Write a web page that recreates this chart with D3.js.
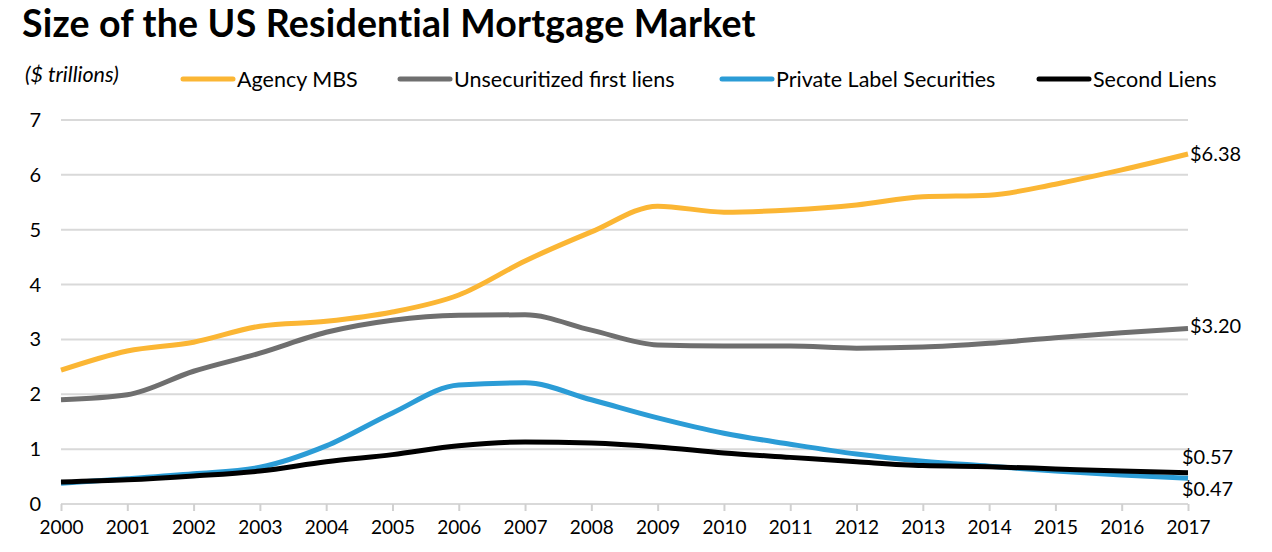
<!DOCTYPE html>
<html>
<head>
<meta charset="utf-8">
<script src="https://cdn.jsdelivr.net/npm/d3@7"></script>
<style>
  body { margin: 0; background: #fff; }
  svg text { font-family: Lato, "Open Sans", sans-serif; fill: #000; }
</style>
</head>
<body>
<div class="canvas"></div>
<script>
// chart data ($ trillions)
const years = d3.range(2000, 2018);
const agencyMBS = [2.44, 2.79, 2.95, 3.24, 3.33, 3.50, 3.81, 4.43, 4.96, 5.43, 5.32, 5.36, 5.45, 5.60, 5.63, 5.83, 6.09, 6.38];
const unsecuritized = [1.90, 1.99, 2.42, 2.75, 3.13, 3.35, 3.44, 3.45, 3.17, 2.90, 2.88, 2.88, 2.84, 2.86, 2.93, 3.03, 3.12, 3.20];
const privateLabel = [0.38, 0.46, 0.55, 0.67, 1.06, 1.66, 2.17, 2.21, 1.90, 1.57, 1.29, 1.09, 0.91, 0.78, 0.69, 0.60, 0.53, 0.47];
const secondLiens = [0.40, 0.44, 0.51, 0.60, 0.77, 0.90, 1.06, 1.13, 1.11, 1.04, 0.93, 0.85, 0.77, 0.70, 0.68, 0.64, 0.60, 0.57];
const yTicks = [0, 1, 2, 3, 4, 5, 6, 7];
const endLabels = ['$6.38', '$3.20', '$0.47', '$0.57'];

const series = [
  {name: 'Agency MBS', values: agencyMBS, color: '#fbb634', label: endLabels[0], dx: 2, dy: 0},
  {name: 'Unsecuritized first liens', values: unsecuritized, color: '#6f6f6f', label: endLabels[1], dx: 2, dy: -2},
  {name: 'Private Label Securities', values: privateLabel, color: '#2b9cd6', label: endLabels[2], dx: -6, dy: 11},
  {name: 'Second Liens', values: secondLiens, color: '#000000', label: endLabels[3], dx: -6, dy: -16}
];

const width = 1272, height = 552;
const margin = {left: 61, right: 84, top: 120, bottom: 48};

const svg = d3.select('.canvas')
  .append('svg')
  .attr('width', width)
  .attr('height', height);

// title
svg.append('text')
  .attr('x', 22).attr('y', 37)
  .style('font-size', '37.5px').style('font-weight', 'bold')
  .style('letter-spacing', '0.2px')
  .text('Size of the US Residential Mortgage Market');

svg.append('text')
  .attr('x', 25).attr('y', 82)
  .style('font-size', '21.5px').style('font-style', 'italic')
  .text('($ trillions)');

// legend
const legendX = [183, 400, 722, 1039];
const legend = svg.selectAll('.legend')
  .data(series)
  .enter().append('g')
  .attr('transform', (d, i) => `translate(${legendX[i]}, 79)`);
legend.append('line')
  .attr('x1', 0).attr('x2', 50)
  .attr('stroke', d => d.color)
  .attr('stroke-width', 5)
  .attr('stroke-linecap', 'round');
legend.append('text')
  .attr('x', 54).attr('dy', '0.35em')
  .style('font-size', '21.5px')
  .text(d => d.name);

// scales
const x = d3.scaleLinear()
  .domain([2000, 2017])
  .range([margin.left, width - margin.right]);

const y = d3.scaleLinear()
  .domain([0, 7])
  .range([height - margin.bottom, margin.top]);

// gridlines
svg.append('g')
  .selectAll('line')
  .data(yTicks)
  .enter().append('line')
  .attr('x1', x(2000)).attr('x2', x(2017))
  .attr('y1', d => y(d)).attr('y2', d => y(d))
  .attr('stroke', '#d9d9d9')
  .attr('stroke-width', 2);

// y labels
svg.append('g')
  .selectAll('text')
  .data(yTicks)
  .enter().append('text')
  .attr('x', 41).attr('y', d => y(d))
  .attr('dy', '0.35em')
  .attr('text-anchor', 'end')
  .style('font-size', '20px')
  .text(d => d);

// x axis
const xAxis = svg.append('g')
  .attr('transform', `translate(0, ${y(0)})`)
  .call(d3.axisBottom(x).tickValues(years).tickFormat(d3.format('d')).tickSize(7).tickPadding(10));
xAxis.select('.domain').remove();
xAxis.selectAll('.tick line').attr('stroke', '#d0d0d0').attr('stroke-width', 2);
xAxis.selectAll('.tick text')
  .style('font-size', '19px')
  .style('font-family', 'Lato, sans-serif')
  .attr('fill', '#000');

// lines
const line = d3.line()
  .x((d, i) => x(years[i]))
  .y(d => y(d))
  .curve(d3.curveMonotoneX);

svg.append('g')
  .selectAll('path')
  .data(series)
  .enter().append('path')
  .attr('d', d => line(d.values))
  .attr('fill', 'none')
  .attr('stroke', d => d.color)
  .attr('stroke-width', 5)
  .attr('stroke-linejoin', 'round');

// end labels
svg.append('g')
  .selectAll('text')
  .data(series)
  .enter().append('text')
  .attr('x', d => x(2017) + d.dx)
  .attr('y', d => y(d.values[d.values.length - 1]) + d.dy)
  .attr('dy', '0.35em')
  .style('font-size', '20px')
  .text(d => d.label);
</script>
</body>
</html>
